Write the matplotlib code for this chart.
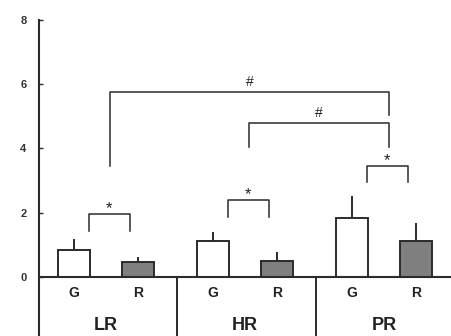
import numpy as np
import matplotlib.pyplot as plt

plt.rcParams['font.family'] = ['Liberation Sans', 'DejaVu Sans']

groups = ["LR", "HR", "PR"]
bar_labels = ["G", "R"]
g_values = [0.84, 1.12, 1.83]
g_errors = [0.33, 0.28, 0.69]
r_values = [0.47, 0.51, 1.13]
r_errors = [0.16, 0.25, 0.56]

# within-group significance (*): bracket height, leg bottoms
star_heights = [1.95, 2.38, 3.44]
star_legs = [(1.43, 1.43), (1.88, 1.88), (2.95, 2.95)]
# between-group significance (#): (from group, to group, height, left leg, right leg)
hash_brackets = [(0, 2, 5.77, 3.46, 5.05), (1, 2, 4.79, 4.04, 4.04)]

yticks = [0, 2, 4, 6, 8]

line_col = "#2b2b2b"
fig = plt.figure(figsize=(4.52, 3.36), dpi=100)
ax = fig.add_axes([39 / 452, 0, 1 - 39 / 452, 1])

x = np.arange(len(groups))
offset = 0.46
width = 0.23

ax.bar(x, g_values, width, color="white", edgecolor=line_col, linewidth=1.4, zorder=3)
ax.bar(x + offset, r_values, width, color="#7f7f7f", edgecolor=line_col, linewidth=1.4, zorder=3)
ax.errorbar(x, g_values, yerr=[np.zeros(3), g_errors], fmt="none", ecolor=line_col,
            elinewidth=1.4, capsize=0, zorder=2)
ax.errorbar(x + offset, r_values, yerr=[np.zeros(3), r_errors], fmt="none", ecolor=line_col,
            elinewidth=1.4, capsize=0, zorder=2)

ax.axhline(0, color=line_col, linewidth=1.5, zorder=4)
ymin = -1.84
for d in x[:-1] + 0.74:
    ax.plot([d, d], [0, ymin], color=line_col, linewidth=1.4, clip_on=False)

for i in x:
    ax.text(i, -0.49, bar_labels[0], ha="center", va="center", fontsize=10, fontweight="bold", color="#222222")
    ax.text(i + offset, -0.49, bar_labels[1], ha="center", va="center", fontsize=10, fontweight="bold", color="#222222")
    ax.text(i + offset / 2, -1.5, groups[i], ha="center", va="center", fontsize=13, fontweight="bold", color="#222222")

# star brackets
for i, h, (l1, l2) in zip(x, star_heights, star_legs):
    x0 = i + 0.105
    x1 = i + 0.405
    ax.plot([x0, x0, x1, x1], [l1, h, h, l2], color=line_col, linewidth=1.1)
    ax.text((x0 + x1) / 2, h + 0.17, "*", ha="center", va="center", fontsize=12, color="#222222")

# hash brackets
for a, b, h, l1, l2 in hash_brackets:
    x0 = a + offset / 2 + 0.03
    x1 = b + offset / 2 + 0.04
    ax.plot([x0, x0, x1, x1], [l1, h, h, l2], color=line_col, linewidth=1.1)
    ax.text((x0 + x1) / 2, h + 0.31, "#", ha="center", va="center", fontsize=10, color="#222222")

ax.set_xlim(-0.252, 2.72)
ax.set_ylim(ymin, 8.62)
ax.set_yticks(yticks)
ax.set_yticklabels([str(t) for t in yticks], fontsize=8, fontweight="bold", color="#333333")
ax.tick_params(axis="y", direction="in", length=3, width=1, color=line_col, pad=9)
ax.set_xticks([])
for s in ["top", "right", "bottom"]:
    ax.spines[s].set_visible(False)
ax.spines["left"].set_bounds(ymin, 8)
ax.spines["left"].set_linewidth(1.5)
ax.spines["left"].set_color(line_col)

fig.savefig("out.png", dpi=100)
